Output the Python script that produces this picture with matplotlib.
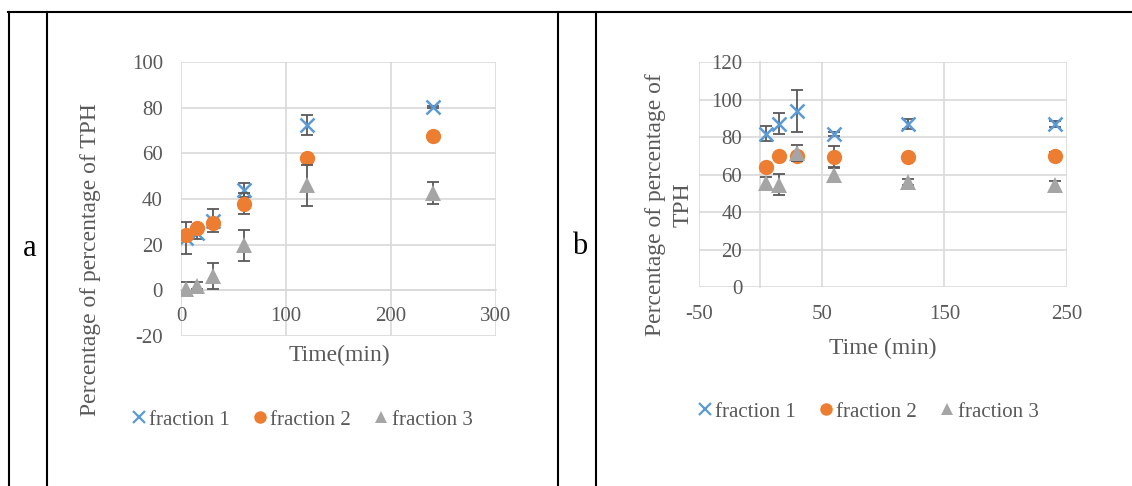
import matplotlib
matplotlib.use('Agg')
import matplotlib.pyplot as plt
from matplotlib.lines import Line2D
import numpy as np

# ---------------- data ----------------
time_min = [5, 15, 30, 60, 120, 240]
series_names = ['fraction 1', 'fraction 2', 'fraction 3']

# panel a
a_frac1 = [23, 25, 30.5, 44, 72.5, 80.5]
a_frac1_err = [7, 2.5, 5, 3, 4.5, 0.5]
a_frac2 = [24, 27.2, 29.4, 37.9, 57.8, 67.6]
a_frac2_err = [1, 1, 1, 4.6, 1, 0.5]
a_frac3 = [0.5, 2, 6.3, 19.6, 46, 42.6]
a_frac3_err = [3, 1.5, 5.7, 6.8, 9, 5]

# panel b
b_frac1 = [81.9, 87.2, 94.2, 81.9, 87, 87]
b_frac1_err = [4, 5.7, 11.2, 1, 2.5, 1.5]
b_frac2 = [64.3, 70, 70, 69.6, 69.6, 70.1]
b_frac2_err = [1, 1, 1, 6, 1, 2]
b_frac3 = [55.5, 54.8, 71.6, 60, 56.2, 54.4]
b_frac3_err = [3.2, 5.6, 4.5, 4, 1.5, 2.5]

a_xticks = [0, 100, 200, 300]
a_yticks = [-20, 0, 20, 40, 60, 80, 100]
b_xticks = [-50, 50, 150, 250]
b_yticks = [0, 20, 40, 60, 80, 100, 120]

# ---------------- style ----------------
plt.rcParams['font.family'] = ['Liberation Serif', 'DejaVu Serif']
plt.rcParams['axes.unicode_minus'] = False  # 用普通的 "-"
W, H = 1132, 486
colors = ['#5B9BD5', '#ED7D31', '#A5A5A5']
markers = ['x', 'o', '^']
msizes = [10, 11, 11]
grid_c = '#D9D9D9'
txt_c = '#595959'
err_c = '#595959'


def fx(px):
    return px / W


def fy(py):
    return 1 - py / H


fig = plt.figure(figsize=(W / 100, H / 100), dpi=100, facecolor='white')


def draw_panel(ax, ys, errs):
    for i in range(3):
        ax.errorbar(time_min, ys[i], yerr=errs[i], fmt='none', ecolor=err_c,
                    elinewidth=1.3, capsize=4, capthick=1.3, zorder=3 + i * 2)
        ax.plot(time_min, ys[i], ls='none', marker=markers[i], color=colors[i],
                ms=msizes[i], mew=1.8 if markers[i] == 'x' else 0, zorder=4 + i * 2)
    for s in ax.spines.values():
        s.set_visible(False)
    ax.grid(True, color=grid_c, lw=1.2, zorder=0)
    ax.set_axisbelow(True)
    ax.tick_params(length=0, labelsize=15, labelcolor=txt_c)


# ---------------- panel a ----------------
ax1 = fig.add_axes([fx(181), fy(335.7), fx(496 - 181), (335.7 - 62.3) / H])
draw_panel(ax1, [a_frac1, a_frac2, a_frac3], [a_frac1_err, a_frac2_err, a_frac3_err])
ax1.set_xlim(0, 300)
ax1.set_ylim(-20, 100)
ax1.set_xticks(a_xticks)
ax1.set_yticks(a_yticks)
ax1.spines['bottom'].set_position(('data', 0))
ax1.spines['bottom'].set_visible(True)
ax1.spines['bottom'].set_color(grid_c)
ax1.spines['bottom'].set_lw(1.2)
ax1.tick_params(axis='x', pad=12)
ax1.tick_params(axis='y', pad=13)

fig.text(fx(91), fy(260), 'Percentage of percentage of TPH', rotation=90,
         ha='center', va='center', fontsize=17, color=txt_c)
fig.text(fx(339), fy(355), 'Time(min)', ha='center', va='center', fontsize=17, color=txt_c)
fig.text(fx(30), fy(248), 'a', ha='center', va='center', fontsize=22, color='black')

# ---------------- panel b ----------------
ax2 = fig.add_axes([fx(699), fy(287.3), fx(1067 - 699), (287.3 - 62.3) / H])
draw_panel(ax2, [b_frac1, b_frac2, b_frac3], [b_frac1_err, b_frac2_err, b_frac3_err])
ax2.set_xlim(-50, 250)
ax2.set_ylim(0, 120)
ax2.set_xticks(b_xticks)
ax2.set_yticks(b_yticks)
ax2.spines['left'].set_position(('data', 0))
ax2.spines['left'].set_visible(True)
ax2.spines['left'].set_color(grid_c)
ax2.spines['left'].set_lw(1.2)
ax2.tick_params(axis='x', pad=13)
ax2.tick_params(axis='y', pad=13)

# y 轴标题分两行写
fig.text(fx(656), fy(204.5), 'Percentage of percentage of', rotation=90,
         ha='center', va='center', fontsize=17, color=txt_c)
fig.text(fx(683), fy(204.5), 'TPH', rotation=90,
         ha='center', va='center', fontsize=17, color=txt_c)
fig.text(fx(883), fy(348), 'Time (min)', ha='center', va='center', fontsize=17, color=txt_c)
fig.text(fx(580), fy(247), 'b', ha='center', va='center', fontsize=22, color='black')

# ---------------- legends ----------------
handles = [Line2D([], [], ls='none', marker=markers[i], color=colors[i],
                  ms=msizes[i] - 2, mew=1.6 if markers[i] == 'x' else 0) for i in range(3)]
for cx, cy in [(302, 420), (868, 412)]:
    leg = fig.legend(handles, series_names, loc='center', bbox_to_anchor=(fx(cx), fy(cy)),
                     ncol=3, frameon=False, fontsize=15, handlelength=0.7,
                     handletextpad=0.15, columnspacing=1.1, borderpad=0)
    for t in leg.get_texts():
        t.set_color(txt_c)

# ---------------- table borders ----------------
fig.add_artist(Line2D([fx(8), 1], [fy(12), fy(12)], color='black', lw=1.5))
for xp in [8.6, 47, 558, 595.5]:
    fig.add_artist(Line2D([fx(xp), fx(xp)], [fy(12), 0], color='black', lw=1.5))

fig.savefig('out.png', dpi=100, facecolor='white')
